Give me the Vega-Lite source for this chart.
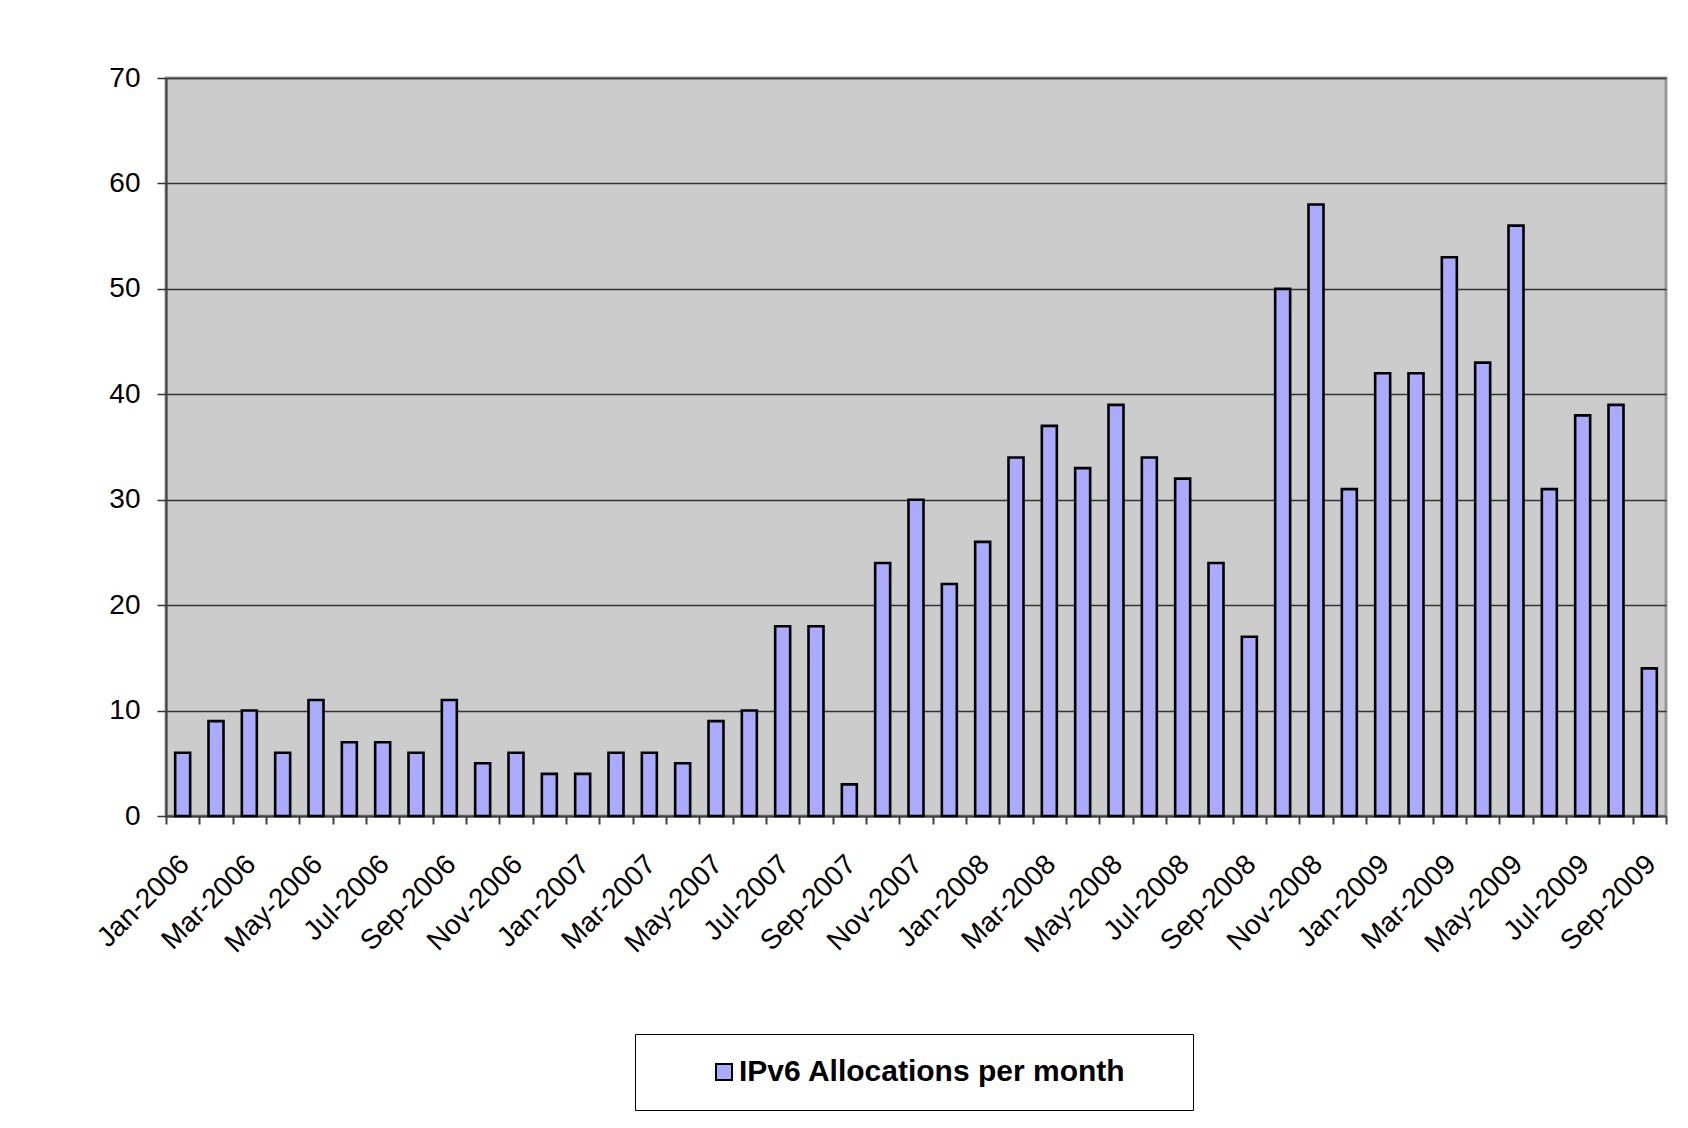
{
  "$schema": "https://vega.github.io/schema/vega-lite/v6.json",
  "autosize": {"type": "none"},
  "width": 1500,
  "height": 738,
  "padding": {"left": 166, "top": 78, "right": 22, "bottom": 312},
  "background": "white",
  "data": {
    "values": [
      {"month": "Jan-2006", "value": 6, "series": "IPv6 Allocations per month"},
      {"month": "Feb-2006", "value": 9, "series": "IPv6 Allocations per month"},
      {"month": "Mar-2006", "value": 10, "series": "IPv6 Allocations per month"},
      {"month": "Apr-2006", "value": 6, "series": "IPv6 Allocations per month"},
      {"month": "May-2006", "value": 11, "series": "IPv6 Allocations per month"},
      {"month": "Jun-2006", "value": 7, "series": "IPv6 Allocations per month"},
      {"month": "Jul-2006", "value": 7, "series": "IPv6 Allocations per month"},
      {"month": "Aug-2006", "value": 6, "series": "IPv6 Allocations per month"},
      {"month": "Sep-2006", "value": 11, "series": "IPv6 Allocations per month"},
      {"month": "Oct-2006", "value": 5, "series": "IPv6 Allocations per month"},
      {"month": "Nov-2006", "value": 6, "series": "IPv6 Allocations per month"},
      {"month": "Dec-2006", "value": 4, "series": "IPv6 Allocations per month"},
      {"month": "Jan-2007", "value": 4, "series": "IPv6 Allocations per month"},
      {"month": "Feb-2007", "value": 6, "series": "IPv6 Allocations per month"},
      {"month": "Mar-2007", "value": 6, "series": "IPv6 Allocations per month"},
      {"month": "Apr-2007", "value": 5, "series": "IPv6 Allocations per month"},
      {"month": "May-2007", "value": 9, "series": "IPv6 Allocations per month"},
      {"month": "Jun-2007", "value": 10, "series": "IPv6 Allocations per month"},
      {"month": "Jul-2007", "value": 18, "series": "IPv6 Allocations per month"},
      {"month": "Aug-2007", "value": 18, "series": "IPv6 Allocations per month"},
      {"month": "Sep-2007", "value": 3, "series": "IPv6 Allocations per month"},
      {"month": "Oct-2007", "value": 24, "series": "IPv6 Allocations per month"},
      {"month": "Nov-2007", "value": 30, "series": "IPv6 Allocations per month"},
      {"month": "Dec-2007", "value": 22, "series": "IPv6 Allocations per month"},
      {"month": "Jan-2008", "value": 26, "series": "IPv6 Allocations per month"},
      {"month": "Feb-2008", "value": 34, "series": "IPv6 Allocations per month"},
      {"month": "Mar-2008", "value": 37, "series": "IPv6 Allocations per month"},
      {"month": "Apr-2008", "value": 33, "series": "IPv6 Allocations per month"},
      {"month": "May-2008", "value": 39, "series": "IPv6 Allocations per month"},
      {"month": "Jun-2008", "value": 34, "series": "IPv6 Allocations per month"},
      {"month": "Jul-2008", "value": 32, "series": "IPv6 Allocations per month"},
      {"month": "Aug-2008", "value": 24, "series": "IPv6 Allocations per month"},
      {"month": "Sep-2008", "value": 17, "series": "IPv6 Allocations per month"},
      {"month": "Oct-2008", "value": 50, "series": "IPv6 Allocations per month"},
      {"month": "Nov-2008", "value": 58, "series": "IPv6 Allocations per month"},
      {"month": "Dec-2008", "value": 31, "series": "IPv6 Allocations per month"},
      {"month": "Jan-2009", "value": 42, "series": "IPv6 Allocations per month"},
      {"month": "Feb-2009", "value": 42, "series": "IPv6 Allocations per month"},
      {"month": "Mar-2009", "value": 53, "series": "IPv6 Allocations per month"},
      {"month": "Apr-2009", "value": 43, "series": "IPv6 Allocations per month"},
      {"month": "May-2009", "value": 56, "series": "IPv6 Allocations per month"},
      {"month": "Jun-2009", "value": 31, "series": "IPv6 Allocations per month"},
      {"month": "Jul-2009", "value": 38, "series": "IPv6 Allocations per month"},
      {"month": "Aug-2009", "value": 39, "series": "IPv6 Allocations per month"},
      {"month": "Sep-2009", "value": 14, "series": "IPv6 Allocations per month"}
    ]
  },
  "mark": {"type": "bar", "stroke": "black", "strokeWidth": 2.6, "width": {"band": 0.45}},
  "encoding": {
    "x": {
      "field": "month",
      "type": "ordinal",
      "sort": null,
      "scale": {"paddingInner": 0, "paddingOuter": 0},
      "axis": {
        "title": null,
        "grid": false,
        "tickBand": "extent",
        "labelAngle": -45,
        "labelOverlap": false,
        "labelExpr": "indexof(['Jan','Mar','May','Jul','Sep','Nov'], slice(datum.label,0,3)) >= 0 ? datum.label : ''",
        "labelFont": "Liberation Sans",
        "labelFontSize": 28,
        "labelColor": "black",
        "labelPadding": 26,
        "labelOffset": -8,
        "tickSize": 8,
        "tickColor": "#404040",
        "tickWidth": 2,
        "domainColor": "#404040",
        "domainWidth": 2
      }
    },
    "y": {
      "field": "value",
      "type": "quantitative",
      "scale": {"domain": [0, 70], "nice": false},
      "axis": {
        "title": null,
        "values": [0, 10, 20, 30, 40, 50, 60, 70],
        "grid": true,
        "gridColor": "#333333",
        "gridWidth": 1.3,
        "labelFont": "Liberation Sans",
        "labelFontSize": 28,
        "labelColor": "black",
        "labelPadding": 17,
        "tickSize": 9,
        "tickColor": "#333333",
        "tickWidth": 1.5,
        "domainColor": "#404040",
        "domainWidth": 2
      }
    },
    "color": {
      "field": "series",
      "type": "nominal",
      "scale": {"range": ["#AAAAFF"]},
      "legend": {
        "orient": "none",
        "legendX": 469,
        "legendY": 956,
        "title": "\u00a0",
        "titleOrient": "left",
        "titleFontSize": 10,
        "titlePadding": 51,
        "strokeColor": "black",
        "fillColor": "white",
        "padding": 23,
        "symbolType": "square",
        "symbolSize": 256,
        "symbolStrokeColor": "black",
        "symbolStrokeWidth": 2,
        "symbolOpacity": 1,
        "labelFont": "Liberation Sans",
        "labelFontSize": 30,
        "labelFontWeight": "bold",
        "labelColor": "black",
        "labelOffset": 0,
        "labelLimit": 0,
        "labelExpr": "datum.label + '\u2800\u2800'"
      }
    }
  },
  "config": {
    "view": {"fill": "#CCCCCC", "stroke": "#999999", "strokeWidth": 3}
  }
}
